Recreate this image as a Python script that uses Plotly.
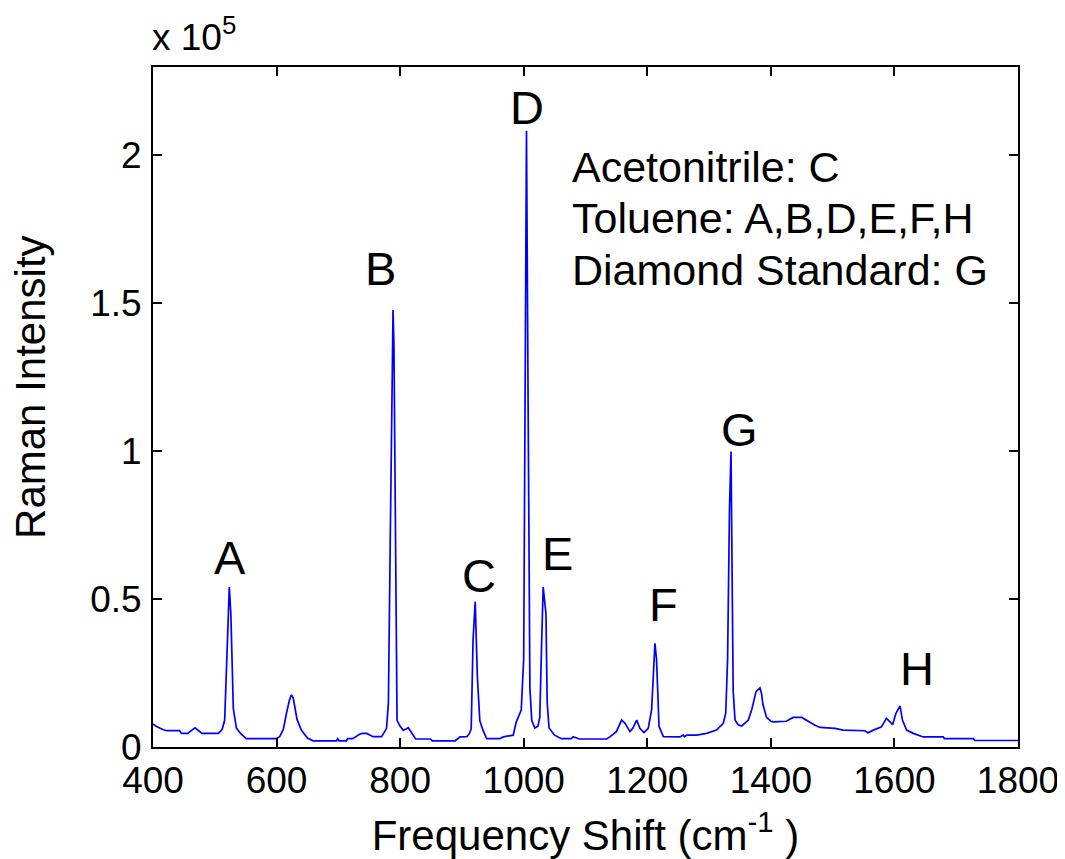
import plotly.graph_objects as go

# Raman spectrum (intensity in units of 1e5)
freq = [400, 405, 415, 422, 443, 446, 456, 462, 468, 474, 479, 506, 512, 516, 520, 523.5, 526, 530, 535, 542,
        551, 599, 605, 611, 616, 621, 624, 627, 630, 633, 640, 650, 659, 697, 699, 701, 713, 715, 723, 730,
        735, 740, 746, 756, 770, 778, 781, 784, 787, 788.5, 790, 792, 793.5, 795, 800, 805, 809, 813, 818, 825,
        849, 852, 889, 897, 908, 912, 915, 918, 921.5, 925, 929, 934, 940, 961, 967, 983, 988, 996, 1000, 1002,
        1004.5, 1007, 1010, 1013, 1018, 1023, 1026, 1029, 1031.5, 1036, 1038, 1041, 1050, 1061, 1077, 1080, 1085, 1090, 1134, 1140,
        1150, 1155, 1158.5, 1164, 1170, 1172, 1177, 1182.8, 1188, 1194.6, 1201.5, 1207, 1210, 1212.4, 1215, 1216.7, 1219, 1226, 1253, 1258,
        1260, 1264, 1280, 1296, 1312, 1323, 1327, 1330, 1333, 1335.5, 1337.5, 1339, 1342, 1347, 1352.7, 1358, 1363.5, 1368.9, 1373, 1376,
        1382.4, 1385, 1387, 1393, 1400, 1404, 1425, 1436, 1450, 1463, 1470, 1479.5, 1504, 1517, 1552, 1557, 1560, 1566, 1579, 1585,
        1587, 1593, 1597, 1602.5, 1607, 1609, 1613, 1619.7, 1630.5, 1646.6, 1679, 1681, 1727.5, 1730, 1800]
intensity = [0.078, 0.07, 0.06, 0.055, 0.055, 0.046, 0.046, 0.055, 0.065, 0.055, 0.046, 0.046, 0.06, 0.091, 0.30, 0.54, 0.45, 0.13, 0.064, 0.045,
             0.028, 0.028, 0.035, 0.06, 0.114, 0.16, 0.176, 0.165, 0.13, 0.094, 0.057, 0.03, 0.021, 0.021, 0.028, 0.021, 0.021, 0.028, 0.028, 0.036,
             0.044, 0.046, 0.046, 0.035, 0.035, 0.063, 0.149, 0.7, 1.3, 1.476, 1.35, 0.7, 0.25, 0.09, 0.07, 0.057, 0.06, 0.065, 0.05, 0.027,
             0.027, 0.021, 0.021, 0.034, 0.035, 0.045, 0.061, 0.36, 0.491, 0.237, 0.088, 0.057, 0.028, 0.028, 0.034, 0.04, 0.085, 0.125, 0.3, 1.2,
             2.082, 1.2, 0.2, 0.09, 0.064, 0.07, 0.1, 0.35, 0.54, 0.45, 0.15, 0.064, 0.04, 0.028, 0.028, 0.035, 0.03, 0.027, 0.027, 0.035,
             0.052, 0.075, 0.091, 0.08, 0.06, 0.052, 0.065, 0.091, 0.063, 0.049, 0.063, 0.125, 0.25, 0.35, 0.295, 0.16, 0.07, 0.035, 0.034, 0.04,
             0.035, 0.04, 0.04, 0.046, 0.057, 0.08, 0.114, 0.3, 0.8, 0.998, 0.6, 0.19, 0.091, 0.075, 0.071, 0.08, 0.091, 0.125, 0.165, 0.187,
             0.2, 0.18, 0.145, 0.1, 0.087, 0.085, 0.087, 0.1, 0.1, 0.083, 0.075, 0.066, 0.063, 0.057, 0.055, 0.048, 0.052, 0.057, 0.068, 0.09,
             0.097, 0.085, 0.075, 0.114, 0.135, 0.139, 0.091, 0.057, 0.046, 0.034, 0.034, 0.028, 0.028, 0.022, 0.022]

# Peak labels
peak_labels = ["A", "B", "C", "D", "E", "F", "G", "H"]
peak_label_x = [524.6, 769, 927, 1005.3, 1054.3, 1227, 1350, 1636.4]
peak_label_y = [0.64, 1.618, 0.578, 2.159, 0.653, 0.482, 1.074, 0.2635]

# Assignment text
assign_lines = ["Acetonitrile: C", "Toluene: A,B,D,E,F,H", "Diamond Standard: G"]
assign_y = [1.96, 1.787, 1.611]
assign_x = 1075

x_ticks = [400, 600, 800, 1000, 1200, 1400, 1600, 1800]
y_ticks = [0, 0.5, 1, 1.5, 2]
y_ticklabels = ["0", "0.5", "1", "1.5", "2"]

FONT = "Liberation Sans, Arial, Helvetica, sans-serif"

fig = go.Figure()
fig.add_trace(go.Scatter(x=freq, y=intensity, mode="lines",
                         line=dict(color="#0000FF", width=1.7), showlegend=False))

for lab, lx, ly in zip(peak_labels, peak_label_x, peak_label_y):
    fig.add_annotation(x=lx, y=ly, text=lab, showarrow=False, xanchor="center", yanchor="middle",
                       font=dict(family=FONT, size=47, color="black"))

for line, ly in zip(assign_lines, assign_y):
    fig.add_annotation(x=assign_x, y=ly, text=line, showarrow=False, xanchor="left", yanchor="middle",
                       font=dict(family=FONT, size=43, color="black"))

fig.add_annotation(xref="paper", yref="paper", x=0, y=1, text="x 10<sup>5</sup>", showarrow=False,
                   xanchor="left", yanchor="bottom", yshift=7, xshift=-3,
                   font=dict(family=FONT, size=37, color="black"))

# y-axis title placed as an annotation (centred slightly above the plot middle, as in the reference)
fig.add_annotation(xref="paper", yref="y", x=0, y=1.213, text="Raman Intensity", showarrow=False,
                   textangle=-90, xanchor="center", yanchor="middle", xshift=-122,
                   font=dict(family=FONT, size=42, color="black"))

axis_common = dict(showline=True, linecolor="black", linewidth=2, mirror="ticks", ticks="inside",
                   ticklen=9, tickwidth=1.5, tickcolor="black", showgrid=False, zeroline=False,
                   tickfont=dict(family=FONT, size=37, color="black"))

fig.update_xaxes(range=[400, 1800], tickvals=x_ticks, ticktext=[str(v) for v in x_ticks],
                 title=dict(text="Frequency Shift (cm<sup>-1</sup> )", font=dict(family=FONT, size=42, color="black"),
                            standoff=22),
                 **axis_common)
fig.update_yaxes(range=[0, 2.297], tickvals=y_ticks, ticktext=y_ticklabels, ticklabelstandoff=2,
                 **axis_common)

fig.update_layout(width=1057, height=851, margin=dict(l=145, r=47, t=59, b=112, autoexpand=False),
                  plot_bgcolor="white", paper_bgcolor="white")

fig.write_html("out.html")
